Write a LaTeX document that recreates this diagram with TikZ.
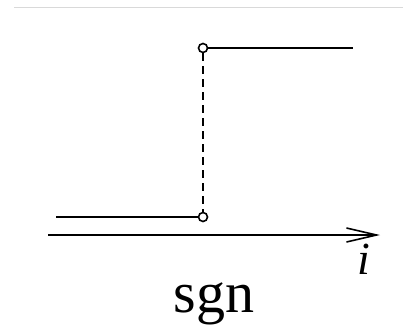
\documentclass[tikz,border=0pt]{standalone}
\usepackage{fontspec}
\setmainfont{Liberation Serif}
\usetikzlibrary{arrows.meta,positioning}

\begin{document}
\begin{tikzpicture}[x=1pt,y=-1pt,line width=2pt,
  opendot/.style={circle,draw,fill=white,inner sep=0pt,minimum size=9pt,line width=1.6pt}]
  \useasboundingbox (0,0) rectangle (403,327);
  \draw[gray!30,line width=1pt] (14,7) -- (403,7);
  % axis
  \coordinate (ax0) at (48,235);
  \coordinate (ax1) at (380,235);
  \draw[-{Straight Barb[length=30pt,width=14pt,line width=1.6pt]}] (ax0) -- (ax1);
  \node[font=\fontsize{46}{46}\selectfont\itshape] (ilab) at (364,259) {i};
  \node[font=\fontsize{58}{58}\selectfont] (sgn) at (214,304) {sgn};
  % step
  \node[opendot] (hi) at (203,48) {};
  \node[opendot] (lo) at (203,217) {};
  \coordinate (hiend) at (353,48);
  \coordinate (lostart) at (56,217);
  \draw (hi) -- (hiend);
  \draw (lostart) -- (lo);
  \draw[dash pattern=on 8pt off 5pt] (hi) -- (lo);
\end{tikzpicture}
\end{document}
